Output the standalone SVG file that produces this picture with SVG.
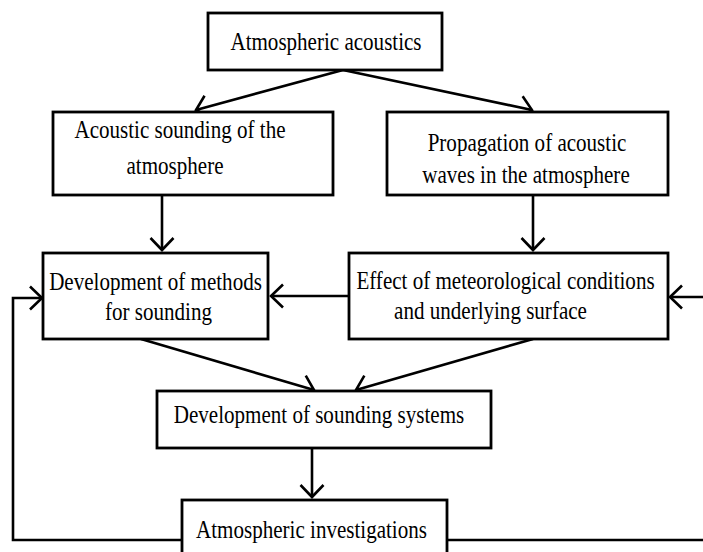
<svg xmlns="http://www.w3.org/2000/svg" width="703" height="552" viewBox="0 0 703 552">
  <defs>
    <style>
      .box { fill: #fff; stroke: #000; stroke-width: 2.8; }
      .lbl { font-family: "Liberation Serif", "Times New Roman", serif; font-size: 26px; fill: #000; text-anchor: middle; }
      .con { fill: none; stroke: #000; stroke-width: 2.6; }
    </style>
    <marker id="arr" markerUnits="userSpaceOnUse" markerWidth="30" markerHeight="30" viewBox="-15 -15 30 30" refX="0" refY="0" orient="auto">
      <path d="M -12 -11.5 L 0 0 L -12 11.5" fill="none" stroke="#000" stroke-width="2.6"/>
    </marker>
  </defs>
  <rect width="703" height="552" fill="#fff"/>

  <g id="connectors">
    <line class="con" x1="343" y1="70" x2="196" y2="110" marker-end="url(#arr)"/>
    <line class="con" x1="343" y1="70" x2="532" y2="110" marker-end="url(#arr)"/>
    <line class="con" x1="162" y1="195" x2="162" y2="250" marker-end="url(#arr)"/>
    <line class="con" x1="533" y1="195" x2="533" y2="250" marker-end="url(#arr)"/>
    <line class="con" x1="349" y1="296" x2="271" y2="296" marker-end="url(#arr)"/>
    <line class="con" x1="141" y1="339" x2="314" y2="390" marker-end="url(#arr)"/>
    <line class="con" x1="533" y1="339" x2="356" y2="390" marker-end="url(#arr)"/>
    <line class="con" x1="312" y1="448" x2="312" y2="497" marker-end="url(#arr)"/>
    <polyline class="con" points="182,540 13,540 13,298 42,298" marker-end="url(#arr)"/>
    <line class="con" x1="447" y1="540" x2="710" y2="540"/>
    <line class="con" x1="710" y1="297" x2="670" y2="297" marker-end="url(#arr)"/>
  </g>

  <g id="n-atmospheric-acoustics">
    <rect class="box" x="208" y="13" width="234" height="57"/>
    <text class="lbl" transform="translate(326,50) scale(0.81,1)">Atmospheric acoustics</text>
  </g>

  <g id="n-acoustic-sounding">
    <rect class="box" x="53" y="112" width="280" height="83"/>
    <text class="lbl" transform="translate(180,138) scale(0.81,1)">Acoustic sounding of the</text>
    <text class="lbl" transform="translate(175,174) scale(0.81,1)">atmosphere</text>
  </g>

  <g id="n-propagation">
    <rect class="box" x="387" y="112" width="281" height="83"/>
    <text class="lbl" transform="translate(527,151) scale(0.81,1)">Propagation of acoustic</text>
    <text class="lbl" transform="translate(526,183) scale(0.81,1)">waves in the atmosphere</text>
  </g>

  <g id="n-methods">
    <rect class="box" x="43" y="253" width="225" height="86"/>
    <text class="lbl" transform="translate(155.5,290) scale(0.81,1)">Development of methods</text>
    <text class="lbl" transform="translate(158.5,320) scale(0.81,1)">for sounding</text>
  </g>

  <g id="n-effect">
    <rect class="box" x="349" y="253" width="319" height="86"/>
    <text class="lbl" transform="translate(505.5,289) scale(0.81,1)">Effect of meteorological conditions</text>
    <text class="lbl" transform="translate(490.5,318.5) scale(0.81,1)">and underlying surface</text>
  </g>

  <g id="n-systems">
    <rect class="box" x="157" y="391" width="334" height="57"/>
    <text class="lbl" transform="translate(319,423) scale(0.81,1)">Development of sounding systems</text>
  </g>

  <g id="n-investigations">
    <rect class="box" x="182" y="500" width="265" height="70"/>
    <text class="lbl" transform="translate(311.5,538) scale(0.81,1)">Atmospheric investigations</text>
  </g>
</svg>
